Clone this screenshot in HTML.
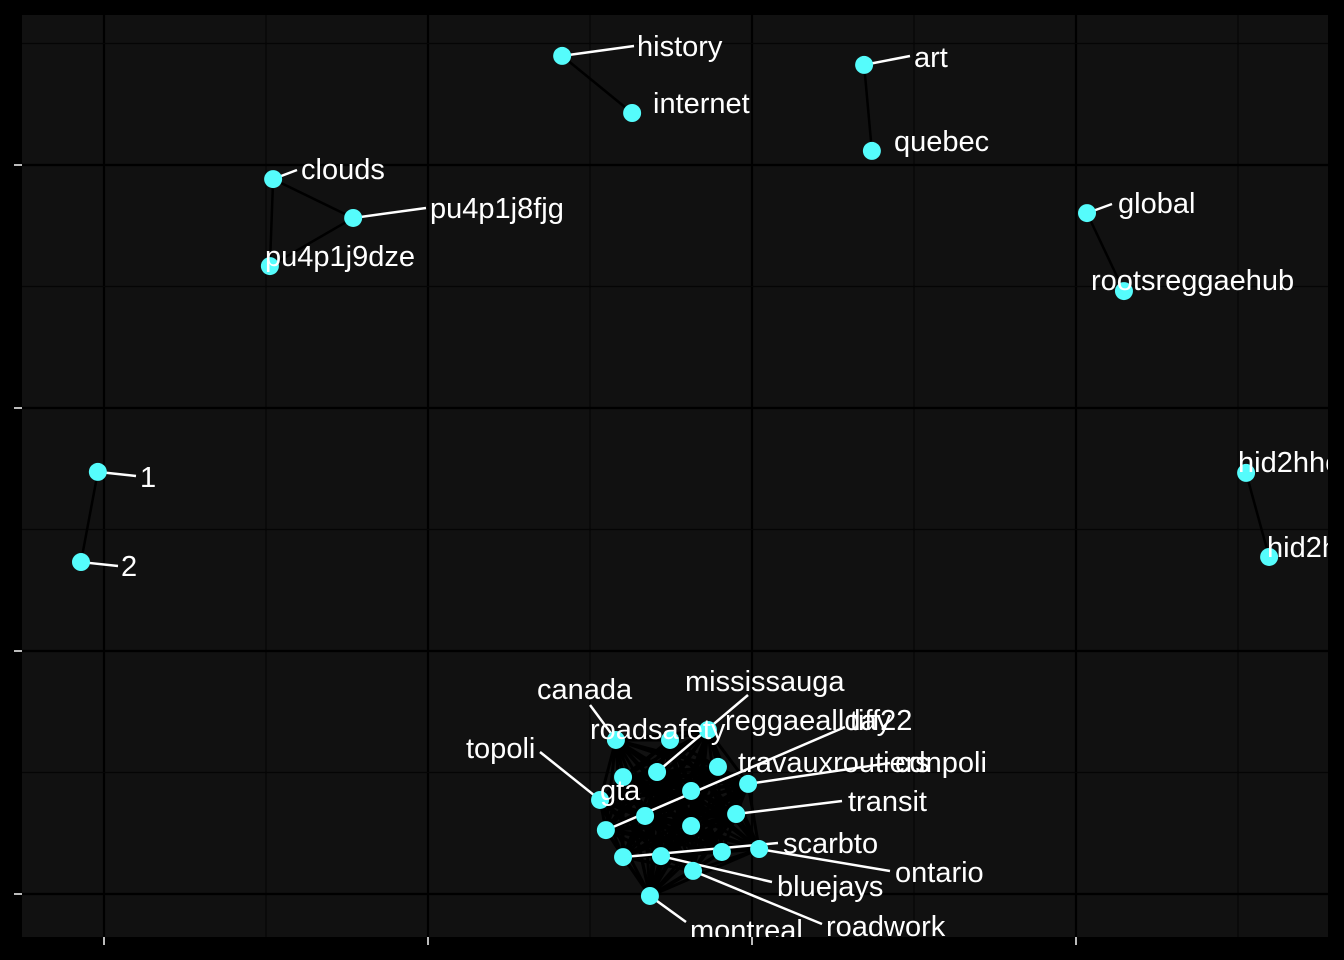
<!DOCTYPE html>
<html><head><meta charset="utf-8"><style>
html,body{margin:0;padding:0;background:#000;}
svg{display:block;}
text{font-family:"Liberation Sans",Arial,sans-serif;}
</style></head><body>
<svg id="chart" width="1344" height="960" viewBox="0 0 1344 960" xmlns="http://www.w3.org/2000/svg">
<defs><clipPath id="panelClip"><rect x="22" y="15" width="1306" height="922"/></clipPath></defs>
<rect x="0" y="0" width="1344" height="960" fill="#000"/>
<rect x="22" y="15" width="1306" height="922" fill="#111111"/>
<g id="grid"></g>
<g id="edges" clip-path="url(#panelClip)"></g>
<g id="segs"></g>
<g id="nodes"></g>
<g id="labels" clip-path="url(#panelClip)"></g>
</svg>
<script>
const nodeNames = ["history","internet","art","quebec","clouds","pu4p1j8fjg","pu4p1j9dze","global","rootsreggaehub","1","2","hid2hhc8kq","hid2hhc9xz",
"canada","roadsafety","reggaeallday","mississauga","tiff22","travauxroutiers","cdnpoli","topoli","gta","transit","scarbto","ontario","bluejays","roadwork","montreal","","","",""];
const nodeX = [1.414,1.630,2.346,2.370,0.522,0.769,0.512,3.034,3.148,-0.019,-0.071,3.525,3.596,
1.580,1.747,1.864,1.707,1.549,1.895,1.988,1.531,1.602,1.951,1.602,2.022,1.719,1.818,1.685,1.812,1.670,1.812,1.907];
const nodeY = [3.449,3.214,3.412,3.058,2.942,2.782,2.584,2.802,2.481,1.737,1.366,1.733,1.387,
0.634,0.634,0.675,0.502,0.263,0.523,0.453,0.387,0.481,0.329,0.152,0.185,0.156,0.095,-0.008,0.424,0.321,0.280,0.173];
const edgeFrom = [0,2,4,4,5,7,9,11];
const edgeTo   = [1,3,5,6,6,8,10,12];
const clusterStart = 13, clusterEnd = 32;
const xTicks = [0,1,2,3];
const yTicks = [0,1,2,3];

// layout (pixels) for label placement
const labelPos = {
 history:[637,46,634,46], internet:[653,103], art:[914,57,910,56], quebec:[894,141],
 clouds:[301,169,297,170], pu4p1j8fjg:[430,208,426,208], pu4p1j9dze:[265,256], global:[1118,203,1112,204],
 rootsreggaehub:[1091,280], "1":[140,477,136,476], "2":[121,566,118,566], hid2hhc8kq:[1238,462], hid2hhc9xz:[1267,547],
 canada:[537,689,590,705], roadsafety:[590,729], reggaeallday:[725,720], mississauga:[685,681,748,695],
 tiff22:[850,720,845,727], travauxroutiers:[738,762], cdnpoli:[895,762,890,763], topoli:[466,748,540,752],
 gta:[600,790], transit:[848,801,842,801], scarbto:[783,843,778,843], ontario:[895,872,890,871],
 bluejays:[777,886,772,882], roadwork:[826,926,822,924], montreal:[690,930,686,922]
};

const sx = v => 104 + v*324;
const sy = v => 894 - v*243;
const NS = "http://www.w3.org/2000/svg";
function mk(tag, attrs, parent){const e=document.createElementNS(NS,tag);for(const k in attrs)e.setAttribute(k,attrs[k]);parent.appendChild(e);return e;}

const grid = document.getElementById('grid');
const svg = document.getElementById('chart');
xTicks.forEach((t,i)=>{
  const x=sx(t);
  const l=mk('line',{x1:x,x2:x,y1:15,y2:937,stroke:'#000','stroke-width':2.2},grid);
  
  
  const m=mk('line',{x1:x+162,x2:x+162,y1:15,y2:937,stroke:'#050505','stroke-width':1.2},grid);
  
  
  const tk=mk('line',{x1:x,x2:x,y1:937,y2:945,stroke:'#bbb','stroke-width':2},svg);
  
  
});
yTicks.forEach(t=>{
  const y=sy(t);
  const l=mk('line',{x1:22,x2:1328,y1:y,y2:y,stroke:'#000','stroke-width':2.2},grid);
  
  
  const m=mk('line',{x1:22,x2:1328,y1:y-121.5,y2:y-121.5,stroke:'#050505','stroke-width':1.2},grid);
  
  
  const tk=mk('line',{x1:14,x2:22,y1:y,y2:y,stroke:'#bbb','stroke-width':2},svg);
  
  
});

const edges = document.getElementById('edges');
edgeFrom.forEach((a,i)=>{
  const b=edgeTo[i];
  const e=mk('line',{x1:sx(nodeX[a]),y1:sy(nodeY[a]),x2:sx(nodeX[b]),y2:sy(nodeY[b]),stroke:'#000','stroke-width':2.5},edges);
  
  
});
for(let a=clusterStart;a<clusterEnd;a++){for(let b=a+1;b<clusterEnd;b++){
  const e=mk('line',{x1:sx(nodeX[a]),y1:sy(nodeY[a]),x2:sx(nodeX[b]),y2:sy(nodeY[b]),stroke:'#000','stroke-width':3},edges);
  
  
}}

const segs=document.getElementById('segs'), nodes=document.getElementById('nodes'), labels=document.getElementById('labels');
nodeNames.forEach((n,i)=>{
  const x=sx(nodeX[i]), y=sy(nodeY[i]);
  const lp=labelPos[n];
  if(lp && lp.length===4){
    const s=mk('line',{x1:lp[2],y1:lp[3],x2:x,y2:y,stroke:'#fff','stroke-width':2.5},segs);
    
    
  }
  const c=mk('circle',{cx:x,cy:y,r:9,fill:'#55fcfc'},nodes);
  
  
  if(lp){
    const t=mk('text',{x:lp[0],y:lp[1]+10,fill:'#fff','font-size':29},labels);
    t.textContent=n;
    
    
  }
});
</script>
</body></html>
